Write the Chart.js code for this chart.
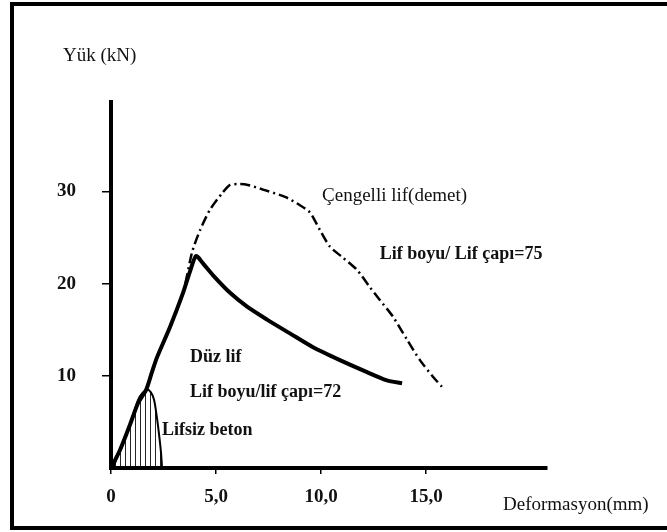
<!DOCTYPE html>
<html>
<head>
<meta charset="utf-8">
<script src="https://cdn.jsdelivr.net/npm/chart.js@4.4.1/dist/chart.umd.min.js"></script>
<style>
  html, body { margin: 0; padding: 0; background: #fff; overflow: hidden; }
  canvas { display: block; }
</style>
</head>
<body>
<canvas id="c" width="667" height="532"></canvas>
<script>
// Yük - deformasyon eğrileri (kN / mm)
const duzX = [0, 0.43, 0.90, 1.29, 1.67, 1.95, 2.19, 2.81, 3.43, 3.76, 4.05, 4.38, 4.86, 5.67, 6.48, 7.43, 8.52, 9.62, 10.90, 12.19, 13.14, 13.86];
const duzY = [0, 1.95, 4.66, 7.05, 8.46, 10.4, 12.0, 15.3, 19.0, 21.3, 23.0, 22.2, 20.9, 19.0, 17.5, 16.1, 14.6, 13.1, 11.7, 10.4, 9.5, 9.2];

const cengelliX = [0, 0.43, 0.90, 1.29, 1.67, 1.95, 2.19, 2.81, 3.43, 3.86, 4.24, 4.71, 5.29, 5.67, 6.14, 6.52, 7.24, 8.29, 9.00, 9.48, 9.95, 10.43, 11.05, 11.71, 12.33, 12.81, 13.43, 14.10, 14.71, 15.33, 15.76];
const cengelliY = [0, 1.95, 4.66, 7.05, 8.46, 10.4, 12.0, 15.3, 19.0, 23.4, 25.8, 28.0, 29.8, 30.7, 30.8, 30.7, 30.2, 29.4, 28.5, 27.7, 25.8, 24.0, 22.8, 21.5, 19.6, 18.2, 16.4, 13.9, 11.7, 9.9, 8.8];

const lifsizX = [0.1, 0.43, 0.76, 1.05, 1.29, 1.48, 1.71, 1.90, 2.05, 2.19, 2.29, 2.38, 2.43];
const lifsizY = [0, 1.95, 3.9, 5.75, 7.4, 8.1, 8.5, 8.2, 7.4, 5.4, 3.6, 1.7, 0];

const xTickValues = [0, 5, 10, 15];
const xTickLabels = ['0', '5,0', '10,0', '15,0'];
const yTickValues = [10, 20, 30];
const yTickLabels = ['10', '20', '30'];

const xTitle = 'Deformasyon(mm)';
const yTitle = 'Yük (kN)';

// curve labels, anchored in data units (left edge, vertical middle)
const notes = [
  { text: 'Çengelli lif(demet)', x: 10.05, y: 29.5, bold: false },
  { text: 'Lif boyu/ Lif çapı=75', x: 12.8, y: 23.2, bold: true },
  { text: 'Düz lif', x: 3.76, y: 12.0, bold: true },
  { text: 'Lif boyu/lif çapı=72', x: 3.76, y: 8.2, bold: true },
  { text: 'Lifsiz beton', x: 2.43, y: 4.1, bold: true },
];

const SERIF = '"Liberation Serif", "Times New Roman", serif';

const toPoints = (xs, ys) => xs.map((x, i) => ({ x, y: ys[i] }));

// vertical hatching for the plain-concrete area
function hatch() {
  const p = document.createElement('canvas');
  p.width = 5; p.height = 4;
  const g = p.getContext('2d');
  g.fillStyle = 'rgba(0,0,0,0.85)';
  g.fillRect(0, 0, 1, 4);
  return g.createPattern ? document.getElementById('c').getContext('2d').createPattern(p, 'repeat') : '#999';
}

const decor = {
  id: 'decor',
  beforeDraw(chart) {
    const c = chart.ctx;
    c.save();
    c.fillStyle = '#fff';
    c.fillRect(0, 0, chart.width, chart.height);
    c.restore();
  },
  afterDraw(chart) {
    const c = chart.ctx, sx = chart.scales.x, sy = chart.scales.y;
    c.save();
    // frame
    c.fillStyle = '#000';
    c.fillRect(10, 2, chart.width - 10, 4);
    c.fillRect(10, 2, 4, 527);
    c.fillRect(10, 526, chart.width - 10, 4);

    c.fillStyle = '#111';
    c.textBaseline = 'middle';
    c.textAlign = 'left';
    c.font = '19px ' + SERIF;
    c.fillText(yTitle, 63, 56);
    c.fillText(xTitle, 503, 505);

    notes.forEach(n => {
      c.font = (n.bold ? 'bold 18px ' : '19px ') + SERIF;
      c.fillText(n.text, sx.getPixelForValue(n.x), sy.getPixelForValue(n.y));
    });
    c.restore();
  }
};

new Chart(document.getElementById('c'), {
  type: 'line',
  data: {
    datasets: [
      {
        label: 'Düz lif',
        data: toPoints(duzX, duzY),
        borderColor: '#000', borderWidth: 4, tension: 0.25,
        pointRadius: 0, fill: false,
      },
      {
        label: 'Çengelli lif(demet)',
        data: toPoints(cengelliX, cengelliY),
        borderColor: '#000', borderWidth: 2.5, borderDash: [10, 4, 2, 4], tension: 0.25,
        pointRadius: 0, fill: false,
      },
      {
        label: 'Lifsiz beton',
        data: toPoints(lifsizX, lifsizY),
        borderColor: '#000', borderWidth: 2, tension: 0.3,
        backgroundColor: hatch(), fill: 'origin',
        pointRadius: 0,
      },
    ],
  },
  options: {
    responsive: false, animation: false,
    layout: { padding: { top: 102, right: 120, left: 0, bottom: 0 } },
    plugins: { legend: { display: false }, tooltip: { enabled: false } },
    scales: {
      x: {
        type: 'linear', min: 0, max: 20.76,
        afterBuildTicks: s => { s.ticks = xTickValues.map(v => ({ value: v })); },
        afterFit: s => { s.height = 64; },
        grid: { drawOnChartArea: false, drawTicks: true, tickLength: 6, color: '#000', lineWidth: 1.5 },
        border: { display: true, color: '#000', width: 4 },
        ticks: {
          color: '#111', padding: 12, maxRotation: 0,
          font: { family: SERIF, size: 19, weight: 'bold' },
          callback: v => xTickLabels[xTickValues.indexOf(v)],
        },
      },
      y: {
        type: 'linear', min: 0, max: 39.7,
        afterBuildTicks: s => { s.ticks = yTickValues.map(v => ({ value: v })); },
        afterFit: s => { s.width = 111; },
        grid: { drawOnChartArea: false, drawTicks: true, tickLength: 9, color: '#000', lineWidth: 1.5 },
        border: { display: true, color: '#000', width: 4 },
        ticks: {
          color: '#111', padding: 26,
          font: { family: SERIF, size: 19, weight: 'bold' },
          callback: v => yTickLabels[yTickValues.indexOf(v)],
        },
      },
    },
  },
  plugins: [decor],
});
</script>
</body>
</html>
